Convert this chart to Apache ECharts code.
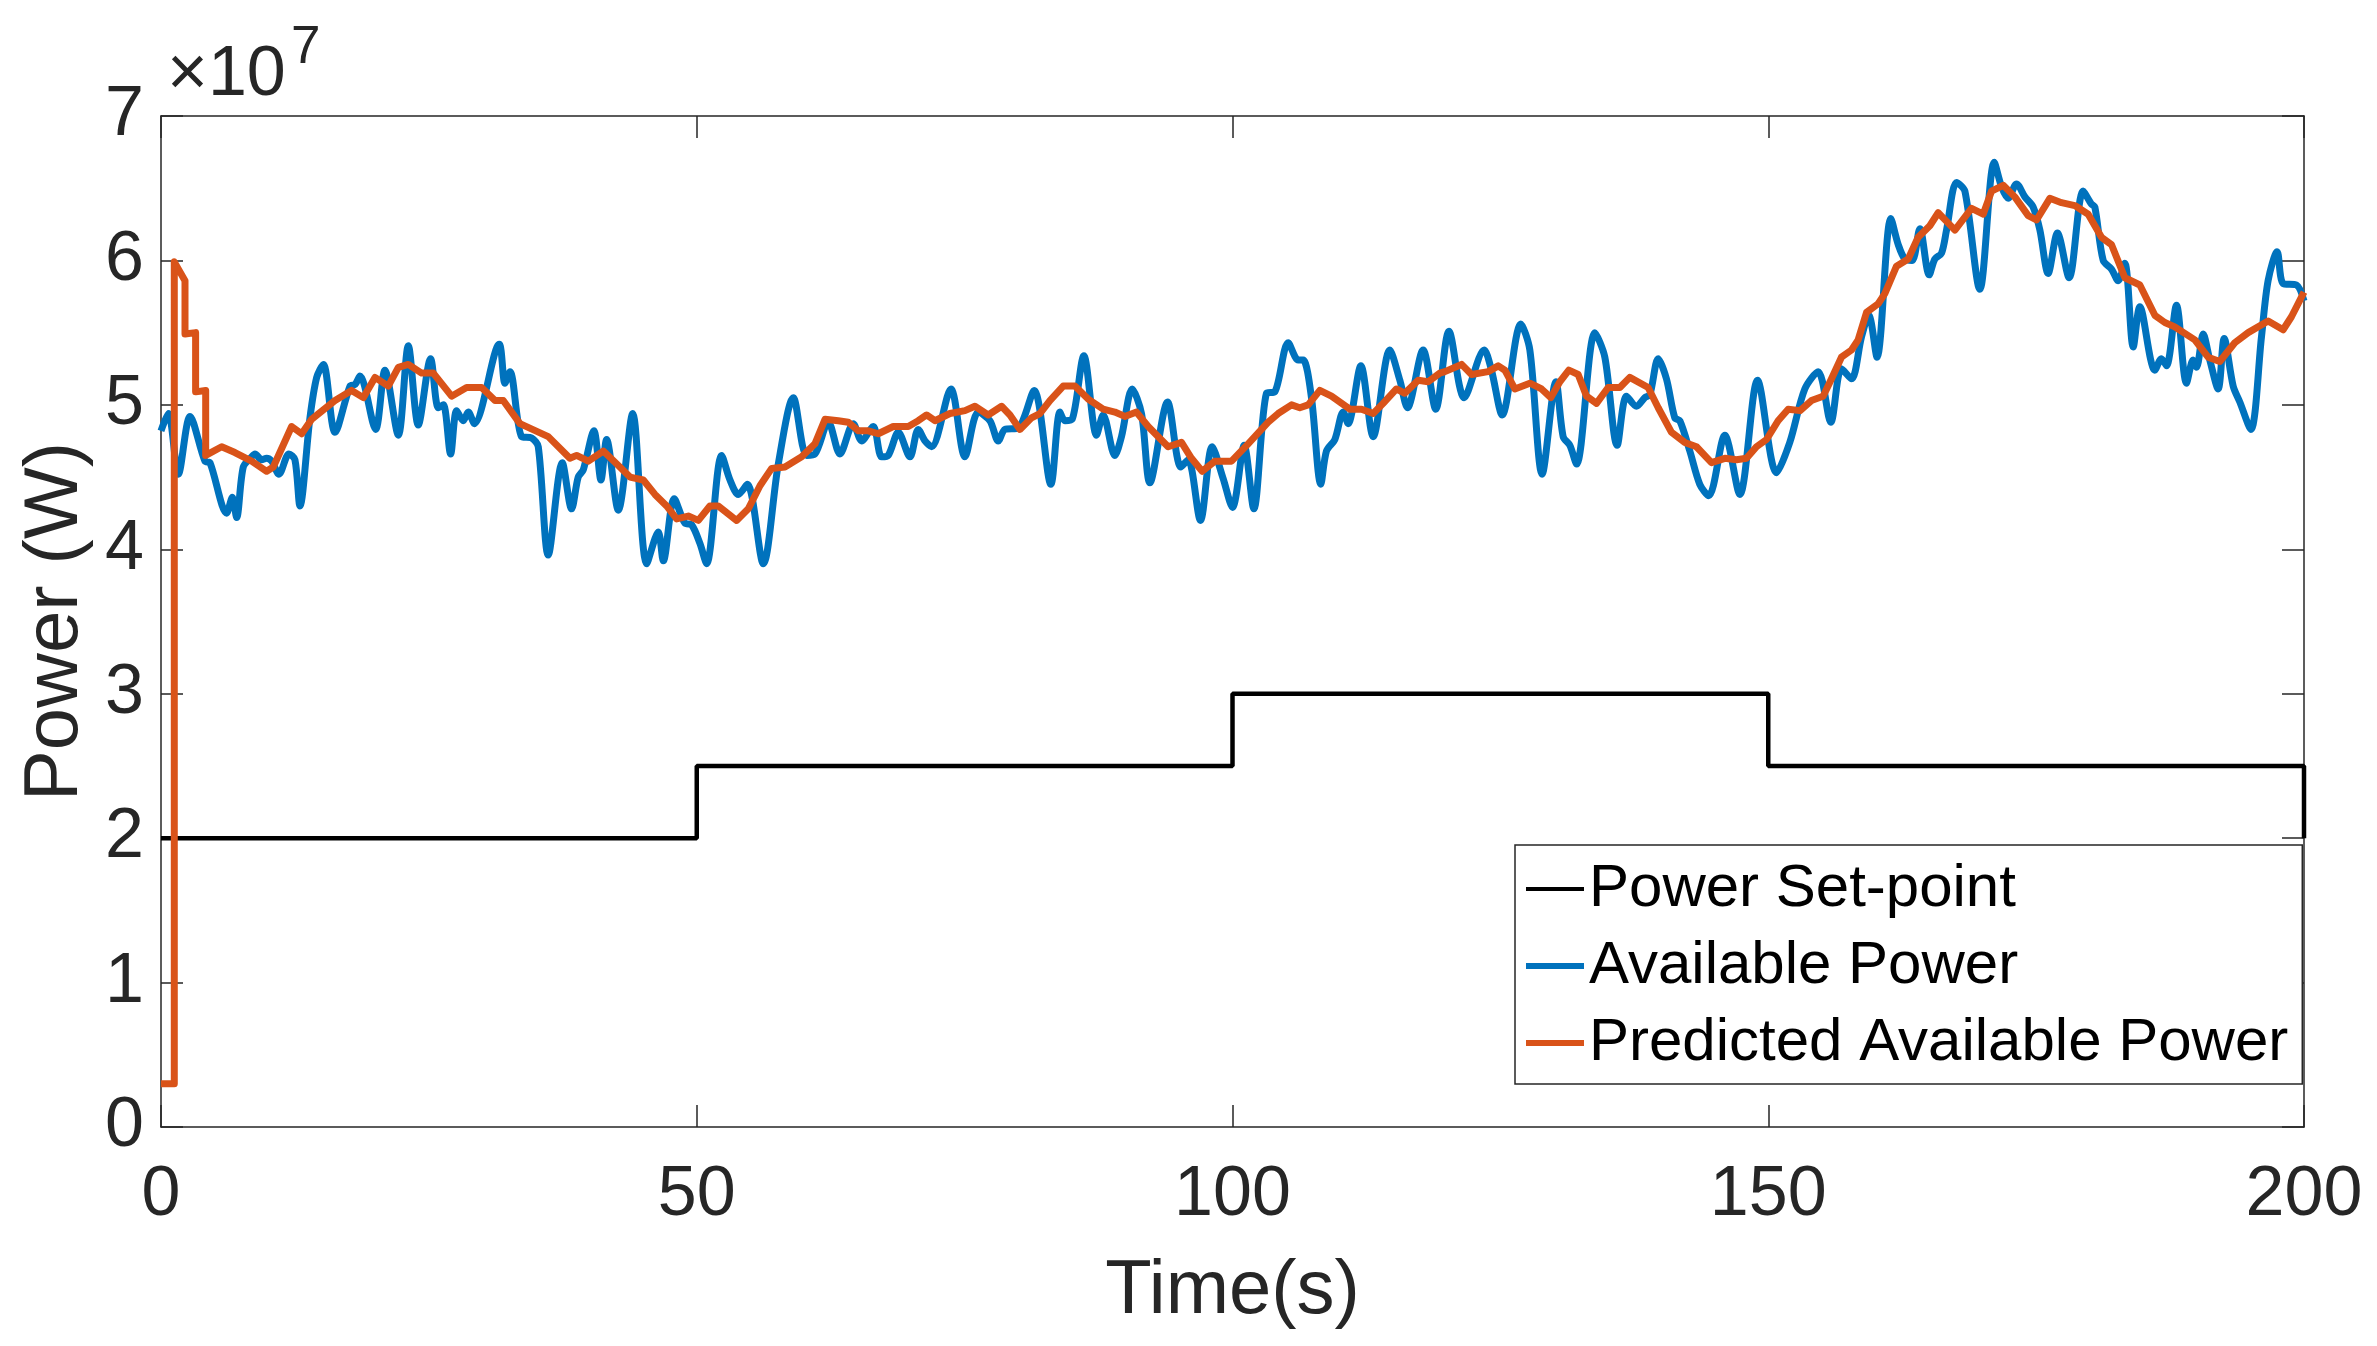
<!DOCTYPE html>
<html>
<head>
<meta charset="utf-8">
<title>Power</title>
<script src="https://cdn.jsdelivr.net/npm/echarts@6/dist/echarts.min.js"></script>
<style>
  html, body { margin: 0; padding: 0; background: #fff; }
  #chart { width: 2377px; height: 1346px; }
</style>
</head>
<body>
<div id="chart"></div>
<script>
// ===== 数据 (功率单位: x10^7 W) =====
const setpointTime  = [0, 50, 50, 100, 100, 150, 150, 200, 200];
const setpointPower = [2, 2, 2.5, 2.5, 3, 3, 2.5, 2.5, 2];

const availTime = [
  0, 0.68, 1.62, 2.71, 4.1, 4.57, 6.13, 6.66, 7.06, 7.68, 8.46, 8.77, 9.39, 9.86, 10.33, 11.01, 11.94, 12.5, 12.97,
  13.9, 14.53, 15.15, 16.24, 17.64, 18.1, 18.57, 20.03, 20.9, 22.15, 23.08, 24.01, 25.16, 25.88, 26.35, 27.03, 27.59,
  28.21, 28.68, 29.24, 31.57, 32.1, 32.57, 33.65, 34.59, 35.21, 36.14, 37.45, 38.32, 38.94, 39.41, 40.4,
  41.06, 41.59, 42.68, 44.02, 45.33, 46.41, 46.88, 47.9, 48.9, 49.52, 50.3, 50.92, 52.32, 53.1, 53.88, 54.72, 56.21,
  57.61, 59.01, 60.25, 61.03, 62.28, 63.36, 64.61, 65.39, 66.47, 67.25, 67.87, 68.81, 69.9, 70.67, 71.3, 71.92, 73.72,
  75.03, 76.27, 77.36, 78.14, 78.76, 80.0,
  81.49, 83.05, 83.89, 84.36, 85.04, 86.13, 87.31, 87.93, 89.02, 89.64, 90.64, 91.51, 92.29, 93.94, 95.18, 95.86,
  97.01, 98.1, 99.13, 100.0, 101.09, 101.99, 103.17, 103.95, 105.2, 106.13, 106.6, 107.37, 108.24, 108.77, 109.55,
  110.33, 110.79, 111.98, 113.13, 114.68, 115.62, 116.33, 117.79, 118.97, 120.2,
  121.62, 123.49, 124.17, 125.17, 126.91, 127.75, 128.9, 130.18, 130.86, 131.48, 132.11, 133.82, 134.75, 135.9,
  136.77, 137.7, 138.48, 138.95, 139.73, 140.5, 141.28, 141.75, 142.68, 143.61, 144.45, 145.95, 147.35, 149.0,
  150.77, 152.01, 153.41, 154.66, 155.84, 156.83, 157.77, 158.7, 159.38, 160.15,
  161.44, 162.13, 162.75, 163.43, 164.15, 165.02, 165.55, 166.17, 166.64, 167.57, 168.35, 169.75, 171.09, 171.77,
  172.39, 173.17, 173.95, 174.72, 175.35, 176.12, 176.99, 178.08, 179.39, 180.17, 180.48, 181.26, 182.03, 182.66,
  183.28, 184.06, 184.68, 186.08, 186.7, 187.17, 188.1, 189.03, 189.65, 189.97, 190.59, 191.21, 191.99, 192.55,
  193.39, 194.01, 195.04, 196.03, 196.65, 197.49, 198.05, 199.3, 200
];
const availPower = [
  4.82, 4.94, 4.52, 4.92, 4.61, 4.6, 4.25, 4.36, 4.22, 4.57, 4.64, 4.66, 4.62, 4.63, 4.61, 4.52, 4.66, 4.62, 4.30,
  4.91, 5.19, 5.28, 4.81, 5.13, 5.14, 5.2, 4.83, 5.24, 4.79, 5.41, 4.86, 5.32, 4.98, 5.0, 4.66, 4.96,
  4.89, 4.95, 4.87, 5.42, 5.15, 5.23, 4.78, 4.77, 4.71, 3.96, 4.6, 4.28, 4.5, 4.55, 4.82,
  4.48, 4.76, 4.27, 4.94, 3.90, 4.12, 3.92, 4.35, 4.18, 4.17, 4.04, 3.90, 4.65, 4.48, 4.38, 4.45, 3.90,
  4.59, 5.05, 4.65, 4.66, 4.88, 4.66, 4.87, 4.75, 4.85, 4.64, 4.65, 4.81, 4.64, 4.83, 4.75, 4.71, 5.11,
  4.64, 4.95, 4.89, 4.75, 4.83, 4.84,
  5.1, 4.45, 4.95, 4.89, 4.9, 5.34, 4.79, 4.93, 4.65, 4.78, 5.11, 4.94, 4.46, 5.02, 4.57, 4.62,
  4.2, 4.71, 4.49, 4.29, 4.72, 4.28, 5.08, 5.09, 5.43, 5.31, 5.31, 5.05, 4.45, 4.68, 4.76,
  4.95, 4.87, 5.27, 4.78, 5.38, 5.17, 4.98, 5.38, 4.97, 5.51,
  5.05, 5.38, 5.24, 4.93, 5.56, 5.38, 4.52, 5.16, 4.78, 4.72, 4.59, 5.5, 5.33, 4.72,
  5.06, 4.99, 5.05, 5.07, 5.32, 5.18, 4.91, 4.89, 4.68, 4.45, 4.37, 4.79, 4.38, 5.17,
  4.53, 4.74, 5.11, 5.23, 4.88, 5.25, 5.18, 5.47, 5.62, 5.33,
  6.29, 6.11, 6.01, 6.0, 6.22, 5.9, 6.01, 6.05, 6.21, 6.54, 6.48, 5.8, 6.68, 6.51,
  6.43, 6.53, 6.44, 6.37, 6.21, 5.91, 6.19, 5.88, 6.48, 6.39, 6.37, 6.0, 5.94, 5.86,
  5.98, 5.4, 5.68, 5.24, 5.32, 5.27, 5.69, 5.15, 5.31, 5.26, 5.49, 5.31, 5.11, 5.46,
  5.13, 5.02, 4.83, 5.47, 5.86, 6.06, 5.84, 5.83, 5.72
];

const predTime = [
  0, 1.24, 1.24, 2.24, 2.24, 3.23, 3.23, 4.17, 4.17, 5.66, 6.9, 8.46, 9.86, 10.48, 12.19, 13.13, 14.06, 16.24, 17.79,
  18.88, 19.97, 21.21, 22.15, 23.08, 24.32, 25.41, 27.12, 28.52, 29.92, 31.17, 31.94, 33.5, 36.14, 38.16, 38.79, 39.88,
  41.28, 42.68, 43.77, 45.01, 46.1, 47.19, 48.12, 49.21, 50.15, 51.23, 52.01, 53.72, 54.81, 55.9, 56.99, 58.23, 59.79,
  61.03, 61.97, 63.21, 64.14, 65.08, 66.01, 66.94, 68.34, 69.74, 70.67, 71.45, 72.23, 73.63, 75.03, 75.96, 77.2, 78.45,
  79.23, 80.16, 81.24, 82.02, 82.96, 84.2, 85.29, 86.53, 87.93, 89.02, 89.95, 91.04, 92.13, 93.99, 95.24, 96.17, 97.17,
  98.35, 99.91, 101.46, 103.33, 104.26, 105.51, 106.28, 107.06, 108.15, 109.24, 110.95, 112.04, 113.13, 114.06, 115.3,
  116.08, 117.33, 118.26, 119.35, 119.82, 121.38, 122.31, 123.86, 124.8, 125.42, 126.35, 127.75, 128.84, 129.71, 130.55,
  131.39, 132.26, 133.04, 133.97, 135.06, 136.15, 137.08, 138.79, 139.73, 140.97, 142.21, 143.3, 144.7, 145.95, 147.04,
  147.97, 148.9, 149.84, 150.92, 151.86, 152.97, 154.03, 155.12, 155.9, 156.83, 157.77, 158.39, 159.17, 160.26, 160.88,
  161.97, 163.06, 163.99, 165.08, 165.86, 166.64, 167.42, 168.97, 170.06, 170.84, 171.93, 173.01, 174.26, 175.04,
  176.28, 177.37, 178.61, 179.86, 181.1, 182.03, 183.28, 184.68, 186.08, 187.01, 187.94, 189.81, 191.05, 192.14,
  193.54, 194.79, 196.65, 198.05, 198.83, 200
];
const predPower = [
  0.3, 0.3, 5.99, 5.86, 5.49, 5.5, 5.09, 5.1, 4.65, 4.71, 4.67, 4.61, 4.54, 4.57, 4.85, 4.8, 4.9, 5.03, 5.1,
  5.05, 5.19, 5.13, 5.26, 5.28, 5.22, 5.22, 5.06, 5.12, 5.12, 5.03, 5.03, 4.87, 4.78, 4.63, 4.65, 4.61,
  4.68, 4.58, 4.5, 4.48, 4.38, 4.3, 4.21, 4.23, 4.2, 4.3, 4.3, 4.2, 4.28, 4.44, 4.56, 4.57, 4.64,
  4.73, 4.9, 4.89, 4.88, 4.82, 4.82, 4.8, 4.85, 4.85, 4.89, 4.93, 4.89, 4.94, 4.96, 4.99, 4.93, 4.99,
  4.93, 4.83, 4.91, 4.94, 5.03, 5.13, 5.13, 5.04, 4.97, 4.95, 4.92, 4.95, 4.85, 4.71, 4.74, 4.63, 4.54,
  4.61, 4.61, 4.73, 4.88, 4.94, 5.0, 4.98, 5.0, 5.1, 5.06, 4.97, 4.97, 4.94, 5.01, 5.11,
  5.08, 5.17, 5.16, 5.22, 5.23, 5.28, 5.21, 5.23, 5.27, 5.24, 5.11, 5.15, 5.11, 5.05, 5.16,
  5.24, 5.21, 5.06, 5.01, 5.12, 5.12, 5.19, 5.12, 4.98, 4.81, 4.74, 4.71, 4.6, 4.63, 4.62,
  4.63, 4.71, 4.76, 4.89, 4.97, 4.96, 5.03, 5.06, 5.18, 5.33, 5.38, 5.45, 5.64, 5.7, 5.77,
  5.96, 6.01, 6.16, 6.24, 6.33, 6.27, 6.21, 6.36, 6.32, 6.48, 6.52, 6.44, 6.31, 6.28,
  6.43, 6.4, 6.38, 6.32, 6.16, 6.11, 5.88, 5.83, 5.62, 5.57, 5.54, 5.45, 5.33, 5.3,
  5.43, 5.5, 5.58, 5.52, 5.61, 5.78
];

const seriesNames = ['Power Set-point', 'Available Power', 'Predicted Available Power'];
const xTicks = [0, 50, 100, 150, 200];
const yTicks = [0, 1, 2, 3, 4, 5, 6, 7];

// ===== 样式 =====
const FONT = '"Liberation Sans", Arial, Helvetica, sans-serif';
const AXIS_COLOR = '#262626';
const COLORS = ['#000000', '#0072BD', '#D95319'];
const LINE_WIDTHS = [4.5, 7, 7];

const pairs = (xs, ys) => xs.map((x, i) => [x, ys[i]]);

const chart = echarts.init(document.getElementById('chart'), null, { renderer: 'canvas', width: 2377, height: 1346 });

// 坐标轴 (MATLAB 风格: 四边框, 刻度朝内)
function axisBase(extra) {
  return Object.assign({
    type: 'value',
    axisLine: { show: true, onZero: false, lineStyle: { color: AXIS_COLOR, width: 1.5 } },
    axisTick: { show: true, inside: true, length: 22, lineStyle: { color: AXIS_COLOR, width: 1.5 } },
    splitLine: { show: false }
  }, extra);
}

// 图例图标: 细长矩形模拟线段
const legendIcon = h => 'path://M0,0H58V' + h + 'H0Z';

const option = {
  animation: false,
  backgroundColor: '#ffffff',
  textStyle: { fontFamily: FONT },
  grid: { left: 161, right: 73, top: 116, bottom: 219, containLabel: false },
  xAxis: [
    axisBase({
      position: 'bottom',
      min: xTicks[0], max: xTicks[xTicks.length - 1], interval: 50,
      name: 'Time(s)',
      nameLocation: 'middle',
      nameGap: 127,
      nameTextStyle: { fontSize: 76, color: AXIS_COLOR, fontFamily: FONT },
      axisLabel: { fontSize: 70, color: AXIS_COLOR, margin: 34, fontFamily: FONT }
    }),
    axisBase({
      position: 'top',
      min: xTicks[0], max: xTicks[xTicks.length - 1], interval: 50,
      axisLabel: { show: false }
    })
  ],
  yAxis: [
    axisBase({
      position: 'left',
      min: yTicks[0], max: yTicks[yTicks.length - 1], interval: 1,
      name: 'Power (W)',
      nameLocation: 'middle',
      nameGap: 64,
      nameTextStyle: { fontSize: 76, color: AXIS_COLOR, fontFamily: FONT },
      axisLabel: { fontSize: 70, color: AXIS_COLOR, margin: 17, fontFamily: FONT }
    }),
    axisBase({
      position: 'right',
      min: yTicks[0], max: yTicks[yTicks.length - 1], interval: 1,
      axisLabel: { show: false }
    })
  ],
  legend: {
    data: seriesNames.map((n, i) => ({ name: n, icon: legendIcon(i === 0 ? 4 : 6) })),
    orient: 'vertical',
    left: 1515,
    top: 845,
    padding: [14, 14, 11, 11],
    itemGap: 17,
    itemWidth: 58,
    itemHeight: 14,
    itemStyle: { borderWidth: 0 },
    backgroundColor: '#ffffff',
    borderColor: AXIS_COLOR,
    borderWidth: 1.5,
    borderRadius: 0,
    textStyle: { fontSize: 60, color: '#000000', fontFamily: FONT }
  },
  // x10^7 指数标记
  graphic: [
    { type: 'text', left: 167, top: 41, silent: true,
      style: { text: '\u00d710', font: '70px ' + FONT, fill: AXIS_COLOR } },
    { type: 'text', left: 291, top: 22, silent: true,
      style: { text: '7', font: '53px ' + FONT, fill: AXIS_COLOR } }
  ],
  series: [
    {
      name: seriesNames[0],
      type: 'line',
      data: pairs(setpointTime, setpointPower),
      symbol: 'none',
      lineStyle: { color: COLORS[0], width: LINE_WIDTHS[0] },
      itemStyle: { color: COLORS[0] }
    },
    {
      name: seriesNames[1],
      type: 'line',
      data: pairs(availTime, availPower),
      symbol: 'none',
      smooth: 0.3,
      lineStyle: { color: COLORS[1], width: LINE_WIDTHS[1], join: 'round' },
      itemStyle: { color: COLORS[1] }
    },
    {
      name: seriesNames[2],
      type: 'line',
      data: pairs(predTime, predPower),
      symbol: 'none',
      lineStyle: { color: COLORS[2], width: LINE_WIDTHS[2], join: 'round' },
      itemStyle: { color: COLORS[2] }
    }
  ]
};

chart.setOption(option);
</script>
</body>
</html>
